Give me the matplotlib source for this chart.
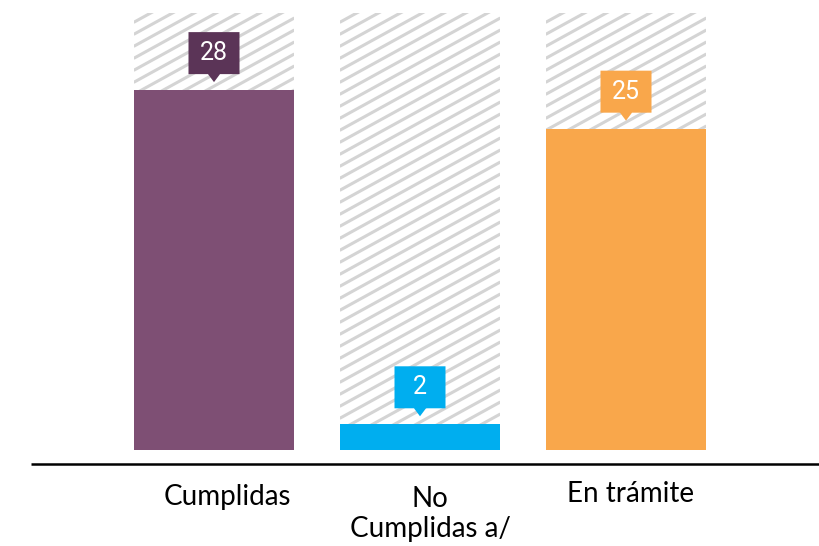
import matplotlib
matplotlib.use("Agg")
import matplotlib.pyplot as plt
import matplotlib.transforms as mtransforms
from matplotlib.collections import LineCollection
from matplotlib.patches import Polygon
import numpy as np

# data
categories = ["Cumplidas", "No\nCumplidas a/", "En trámite"]
values = [28, 2, 25]
total = 34  # hatched background height
bar_colors = ["#7e4f74", "#00aeef", "#f9a74b"]
tag_colors = ["#5b3457", "#00aeef", "#f9a74b"]
label_dx = [0.065, 0.05, 0.02]   # label offsets from bar center
label_y = [-3.66, -4.98, -3.42]

fig = plt.figure(figsize=(8.2, 5.46), dpi=100)
ax = fig.add_axes([0, 0, 1, 1])
ax.set_xlim(-214 / 206, (820 - 214) / 206)
ax.set_ylim(-96 / 12.853, 450 / 12.853)
ax.axis("off")

x = np.arange(len(values))
width = 0.78

# hatched background bars
bg = ax.bar(x, [total] * len(values), width=width, color="none", linewidth=0)
slope = 0.55 * 206 / 12.853
step = 12 / 12.853
for rect in bg.patches:
    x0 = rect.get_x()
    x1 = x0 + rect.get_width()
    segs = []
    for c in np.arange(-slope * (x1 - x0), total + step, step):
        segs.append([(x0, c), (x1, c + slope * (x1 - x0))])
    lc = LineCollection(segs, colors="#d4d4d4", linewidths=2.2)
    ax.add_collection(lc)
    lc.set_clip_path(rect)

# value bars
ax.bar(x, values, width=width, color=bar_colors, linewidth=0, zorder=3)

# baseline
ax.plot([-183 / 206, (820 - 214) / 206], [-1.09, -1.09], color="black", lw=1.8, solid_capstyle="butt")

# callouts
for i, v in enumerate(values):
    tr = fig.dpi_scale_trans + mtransforms.ScaledTranslation(x[i], v, ax.transData)
    hw = 0.255
    pts = [(-0.06, 0.16), (0.0, 0.08), (0.06, 0.16), (hw, 0.16), (hw, 0.58),
           (-hw, 0.58), (-hw, 0.16)]
    ax.add_patch(Polygon(pts, closed=True, transform=tr, facecolor=tag_colors[i],
                         edgecolor="none", zorder=4))
    ax.text(0, 0.37, str(v), transform=tr, ha="center", va="center",
            color="white", fontsize=18, family="Roboto", zorder=5)

# category labels
for i, lab in enumerate(categories):
    ax.text(x[i] + label_dx[i], label_y[i], lab, ha="center", va="center",
            fontsize=20, family="Lato", linespacing=1.15)

fig.savefig("out.png", dpi=100)
